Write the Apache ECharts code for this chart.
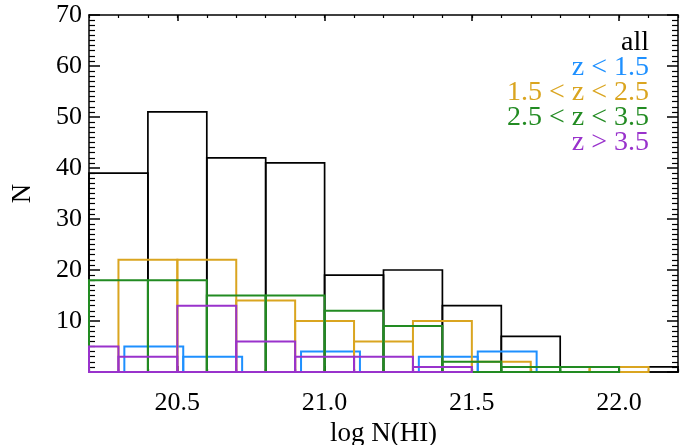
<!DOCTYPE html>
<html>
<head>
<meta charset="utf-8">
<script src="https://cdn.jsdelivr.net/npm/echarts@6/dist/echarts.min.js"></script>
<style>
  html, body { margin: 0; padding: 0; background: #fff; }
  #chart { width: 681px; height: 445px; }
</style>
</head>
<body>
<div id="chart"></div>
<script>
// histogram bins (width 0.2 in log N(HI)), left edge of first bin per sample
const binWidth = 0.2;
const seriesNames = ['all', 'z < 1.5', '1.5 < z < 2.5', '2.5 < z < 3.5', 'z > 3.5'];
const seriesColors = ['#000000', '#1e90ff', '#daa520', '#228b22', '#9932cc'];
const binStarts = [20.2, 20.32, 20.3, 20.2, 20.1];
const countsAll = [39, 51, 42, 41, 19, 20, 13, 7, 1, 1];
const countsLowZ = [5, 3, 0, 4, 0, 3, 4];
const countsMidZ = [22, 22, 14, 10, 6, 10, 2, 1, 1];
const countsHighZ = [18, 18, 15, 15, 12, 9, 2, 1, 1];
const countsTopZ = [5, 3, 13, 6, 3, 3, 1];
const xTickLabels = [20.5, 21.0, 21.5, 22.0];

const allCounts = [countsAll, countsLowZ, countsMidZ, countsHighZ, countsTopZ];
const font = 'Liberation Serif';

// minor ticks every 0.1
const xMinorTicks = [];
for (let i = 0; i <= 20; i++) xMinorTicks.push(Math.round((20.2 + i * 0.1) * 10) / 10);

function makeRender(color, width) {
  return function (params, api) {
    const x0 = api.value(0);
    const n = api.value(1);
    if (!n) return null;
    const a = api.coord([x0, 0]);
    const b = api.coord([x0 + binWidth, n]);
    const cs = params.coordSys;
    const rect = echarts.graphic.clipRectByRect(
      { x: a[0], y: b[1], width: b[0] - a[0], height: a[1] - b[1] },
      { x: cs.x, y: cs.y, width: cs.width, height: cs.height }
    );
    if (!rect) return null;
    return {
      type: 'rect',
      shape: rect,
      style: { fill: 'none', stroke: color, lineWidth: width }
    };
  };
}

const series = seriesNames.map((name, k) => ({
  name: name,
  type: 'custom',
  renderItem: makeRender(seriesColors[k], k === 0 ? 1.7 : 2),
  data: allCounts[k].map((c, i) => [binStarts[k] + i * binWidth, c]),
  encode: { x: 0, y: 1 },
  z: 2 + k
}));

const xBase = {
  type: 'value', min: 20.2, max: 22.2,
  splitLine: { show: false },
  axisLine: { lineStyle: { color: '#000', width: 1.5 } }
};

const yBase = {
  type: 'value', min: 0, max: 70, interval: 10,
  splitLine: { show: false },
  axisLine: { show: true, lineStyle: { color: '#000', width: 1.5 } },
  axisTick: { show: true, inside: true, length: 11, lineStyle: { color: '#000', width: 1.5 } },
  minorTick: { show: true, splitNumber: 10, length: 6, lineStyle: { color: '#000', width: 1.2 } }
};

const chart = echarts.init(document.getElementById('chart'));
chart.setOption({
  animation: false,
  backgroundColor: '#fff',
  grid: { left: 89, right: 3, top: 15, bottom: 73, containLabel: false, outerBoundsMode: 'none' },
  xAxis: [
    Object.assign({}, xBase, {
      position: 'bottom',
      name: 'log N(HI)', nameLocation: 'middle', nameGap: 46,
      nameTextStyle: { fontFamily: font, fontSize: 27, color: '#000' },
      axisTick: { show: true, inside: true, length: 6, customValues: xTickLabels, lineStyle: { color: '#000', width: 1.5 } },
      axisLabel: { customValues: xTickLabels, formatter: v => v.toFixed(1), fontFamily: font, fontSize: 26, color: '#000', margin: 18 }
    }),
    Object.assign({}, xBase, {
      position: 'bottom',
      axisLine: { show: false },
      axisTick: { show: true, inside: true, length: 3, customValues: xMinorTicks, lineStyle: { color: '#000', width: 1.2 } },
      axisLabel: { show: false }
    }),
    Object.assign({}, xBase, {
      position: 'top',
      axisTick: { show: true, inside: true, length: 6, customValues: xTickLabels, lineStyle: { color: '#000', width: 1.5 } },
      axisLabel: { show: false }
    }),
    Object.assign({}, xBase, {
      position: 'top',
      axisLine: { show: false },
      axisTick: { show: true, inside: true, length: 3, customValues: xMinorTicks, lineStyle: { color: '#000', width: 1.2 } },
      axisLabel: { show: false }
    })
  ],
  yAxis: [
    Object.assign({}, yBase, {
      position: 'left',
      name: 'N', nameLocation: 'middle', nameGap: 53, nameRotate: 90,
      nameTextStyle: { fontFamily: font, fontSize: 27, color: '#000' },
      axisLabel: { formatter: v => (v === 0 ? '' : String(v)), fontFamily: font, fontSize: 26, color: '#000', margin: 7 }
    }),
    Object.assign({}, yBase, {
      position: 'right',
      axisLabel: { show: false }
    })
  ],
  graphic: seriesNames.map((name, k) => ({
    type: 'text',
    x: 649, y: 43 + 25 * k,
    style: {
      text: name, fill: seriesColors[k],
      font: '28px "Liberation Serif"',
      textAlign: 'right', textVerticalAlign: 'middle'
    }
  })),
  series: series
});
</script>
</body>
</html>
